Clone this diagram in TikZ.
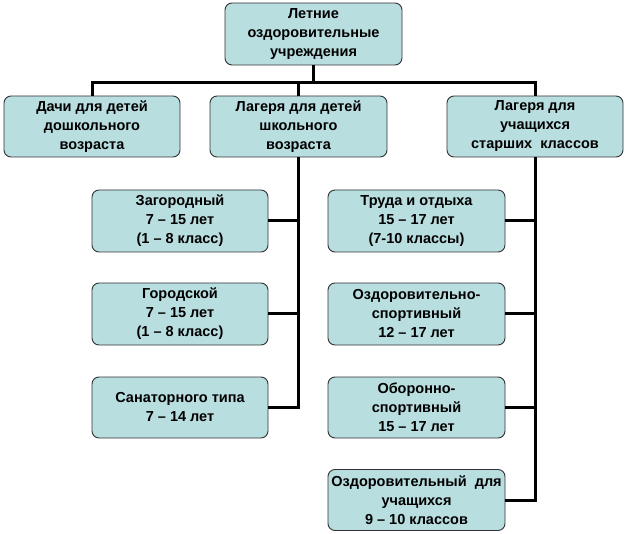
\documentclass[tikz,border=0pt]{standalone}
\usepackage{fontspec}
\setmainfont{Liberation Sans}
\definecolor{boxfill}{HTML}{B9DEE0}
\definecolor{boxline}{HTML}{333333}
\tikzset{
  box/.style={draw=boxline, line width=0.9pt, fill=boxfill, rounded corners=7pt,
    align=center, inner sep=1pt, font=\fontsize{14.5}{19}\selectfont\bfseries},
  conn/.style={line width=3pt, black}
}
\begin{document}
\begin{tikzpicture}[x=1pt,y=-1pt]
\useasboundingbox (0,0) rectangle (626,534);
\node[box, minimum width=177pt, minimum height=62pt] (top) at (313.5,34) {Летние\\оздоровительные\\учреждения};
\node[box, minimum width=176pt, minimum height=61pt] (A) at (92,126.5) {Дачи для детей\\дошкольного\\возраста};
\node[box, minimum width=177pt, minimum height=61pt] (B) at (298.5,126.5) {Лагеря для детей\\школьного\\возраста};
\node[box, minimum width=176pt, minimum height=61pt] (C) at (535,126.5) {Лагеря для\\учащихся\\старших\ \ классов};

\node[box, minimum width=176pt, minimum height=62pt] (L1) at (180,221) {Загородный\\7 – 15 лет\\(1 – 8 класс)};
\node[box, minimum width=176pt, minimum height=62pt] (L2) at (180,314) {Городской\\7 – 15 лет\\(1 – 8 класс)};
\node[box, minimum width=176pt, minimum height=61pt] (L3) at (180,407.5) {Санаторного типа\\7 – 14 лет};

\node[box, minimum width=177pt, minimum height=62pt] (R1) at (416.5,221) {Труда и отдыха\\15 – 17 лет\\(7-10 классы)};
\node[box, minimum width=177pt, minimum height=62pt] (R2) at (416.5,314) {Оздоровительно-\\спортивный\\12 – 17 лет};
\node[box, minimum width=177pt, minimum height=61pt] (R3) at (416.5,407.5) {Оборонно-\\спортивный\\15 – 17 лет};
\node[box, minimum width=177pt, minimum height=61pt] (R4) at (416.5,500) {Оздоровительный\ \ для\\учащихся\\9 – 10 классов};

\draw[conn] (top.south) -- ++(0,17) coordinate (j);
\draw[conn] (A.north) |- (j) -| (C.north);
\draw[conn] (B.north) -- (B.north |- j);

\draw[conn] (B.south) -- (B.south |- L3.east) -- (L3.east);
\draw[conn] (L1.east) -- (L1.east -| B.south);
\draw[conn] (L2.east) -- (L2.east -| B.south);

\draw[conn] (C.south) -- (C.south |- R4.east) -- (R4.east);
\draw[conn] (R1.east) -- (R1.east -| C.south);
\draw[conn] (R2.east) -- (R2.east -| C.south);
\draw[conn] (R3.east) -- (R3.east -| C.south);
\end{tikzpicture}
\end{document}
